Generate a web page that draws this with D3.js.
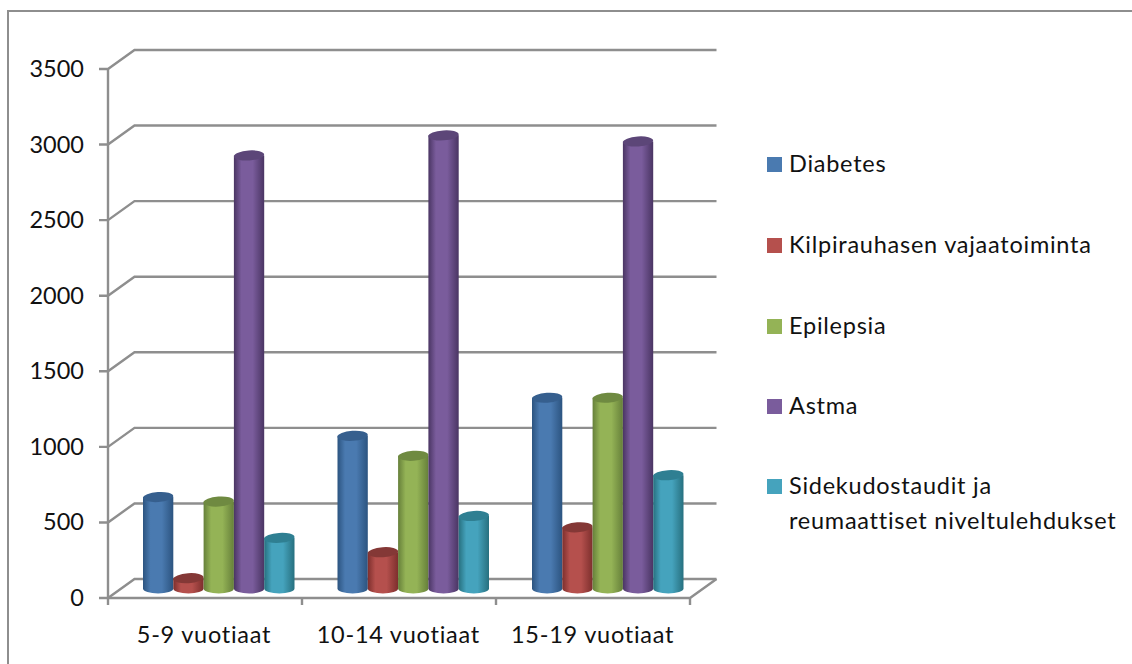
<!DOCTYPE html>
<html>
<head>
<meta charset="utf-8">
<style>
html, body { margin: 0; padding: 0; background: #fff; }
svg { display: block; }
text { font-family: Lato, "Open Sans", sans-serif; font-size: 23.5px; fill: #111; }
.wide { letter-spacing: 0.75px; }
</style>
<script src="https://cdn.jsdelivr.net/npm/d3@7"></script>
</head>
<body>
<svg id="chart" width="1132" height="664"></svg>
<script>
const ageGroups = ["5-9 vuotiaat", "10-14 vuotiaat", "15-19 vuotiaat"];
const diseases = ["Diabetes", "Kilpirauhasen vajaatoiminta", "Epilepsia", "Astma", "Sidekudostaudit ja reumaattiset niveltulehdukset"];
const diabetes = [605, 1010, 1262];
const hypothyroidism = [68, 240, 405];
const epilepsy = [575, 878, 1262];
const asthma = [2865, 2998, 2958];
const connectiveTissue = [335, 480, 750];
const seriesValues = [diabetes, hypothyroidism, epilepsy, asthma, connectiveTissue];
const yTicks = [0, 500, 1000, 1500, 2000, 2500, 3000, 3500];

const palette = [
  { side: "#2c5480", mid: "#4a7ab0", top: "#365f8e" },
  { side: "#7d2f2d", mid: "#b5504d", top: "#843836" },
  { side: "#66803a", mid: "#94b356", top: "#6f8a41" },
  { side: "#4a3563", mid: "#7a5c9c", top: "#5c4678" },
  { side: "#27707f", mid: "#45a3bd", top: "#2f7f92" }
];

const svg = d3.select("#chart");
const gridColor = "#8e8e8e";

// Chart frame
svg.append("rect").attr("x", 8).attr("y", 11).attr("width", 1200).attr("height", 700)
  .attr("fill", "none").attr("stroke", gridColor).attr("stroke-width", 2);

// Front plane of the axis box and the depth offset to the back wall
const y = d3.scaleLinear().domain([0, 3500]).range([598, 69]);
const xFront = d3.scaleLinear().domain([0, 3]).range([108, 690]);
const depth = { dx: 26.5, dy: -19 };

const grid = svg.append("g").attr("fill", "none").attr("stroke", gridColor).attr("stroke-width", 2.4);
yTicks.forEach(t => {
  const yy = y(t);
  grid.append("path").attr("d", d3.line()([
    [xFront(0) - 9, yy], [xFront(0), yy], [xFront(0) + depth.dx, yy + depth.dy], [xFront(3) + depth.dx, yy + depth.dy]
  ]));
});
// Vertical axis and floor
grid.append("path").attr("d", d3.line()([[xFront(0), y(3500)], [xFront(0), y(0)]]));
grid.append("path").attr("d", d3.line()([
  [xFront(0), y(0)], [xFront(3), y(0)], [xFront(3) + depth.dx, y(0) + depth.dy]
]));
d3.range(4).forEach(i => {
  grid.append("path").attr("d", d3.line()([[xFront(i), y(0)], [xFront(i), y(0) + 7]]));
});

// Horizontal gradients give each bar its cylindrical shading
const defs = svg.append("defs");
palette.forEach((c, i) => {
  const g = defs.append("linearGradient").attr("id", "cyl" + i);
  g.append("stop").attr("offset", "0%").attr("stop-color", c.side);
  g.append("stop").attr("offset", "25%").attr("stop-color", c.mid);
  g.append("stop").attr("offset", "62%").attr("stop-color", c.mid);
  g.append("stop").attr("offset", "100%").attr("stop-color", c.side);
});

const xGroup = d3.scaleBand().domain(ageGroups).range([121, 704.5]);
const xSeries = d3.scaleBand().domain(d3.range(diseases.length)).range([22, 173.5]);
const baseY = 588.5;
const barY = v => baseY - (y(0) - y(v));
const ry = 5;

const bars = svg.append("g");
seriesValues.forEach((values, s) => {
  values.forEach((v, g) => {
    const left = xGroup(ageGroups[g]) + xSeries(s);
    const w = xSeries.bandwidth();
    const rx = w / 2;
    const top = barY(v);
    bars.append("path")
      .attr("fill", `url(#cyl${s})`)
      .attr("d", `M${left},${top} L${left},${baseY} A${rx},${ry} 0 0 0 ${left + w},${baseY} L${left + w},${top} Z`);
    // Cap is tipped slightly to follow the chart's perspective
    bars.append("ellipse")
      .attr("cx", left + rx).attr("cy", top).attr("rx", rx).attr("ry", ry)
      .attr("transform", `rotate(-4 ${left + rx} ${top})`)
      .attr("fill", palette[s].top);
  });
});

// Value axis labels
svg.append("g").selectAll("text").data(yTicks).join("text")
  .attr("x", 84).attr("y", d => y(d) + 8).attr("text-anchor", "end").text(d => d);

// Category labels
svg.append("g").selectAll("text").data(ageGroups).join("text")
  .attr("class", "wide")
  .attr("x", (d, i) => xFront(i + 0.5) - 1 + i * 0.3).attr("y", 643).attr("text-anchor", "middle").text(d => d);

// Legend
const legendRows = [172, 253, 334, 414, 494];
const legend = svg.append("g").attr("class", "wide");
diseases.forEach((name, i) => {
  legend.append("rect").attr("x", 767).attr("y", legendRows[i] - 15).attr("width", 15).attr("height", 15)
    .attr("fill", palette[i].mid);
  if (i === 4) {
    legend.append("text").attr("x", 789).attr("y", legendRows[i]).text("Sidekudostaudit ja");
    legend.append("text").attr("x", 789).attr("y", legendRows[i] + 35).text("reumaattiset niveltulehdukset");
  } else {
    legend.append("text").attr("x", 789).attr("y", legendRows[i]).text(name);
  }
});
</script>
</body>
</html>
